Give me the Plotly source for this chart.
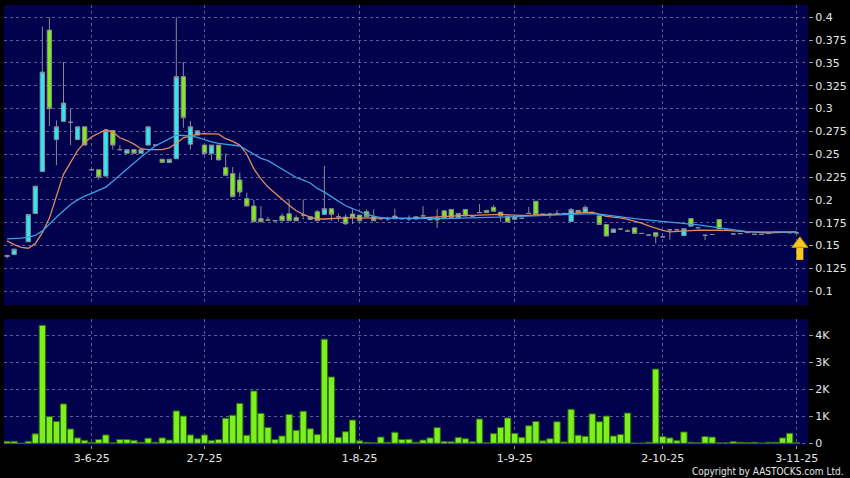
import plotly.graph_objects as go

# ---------------- data ----------------
N_BARS = 113
bar_index = list(range(N_BARS))

opens = [0.138, 0.140, None, 0.154, 0.185, 0.231, 0.386, 0.266, 0.286, 0.285,
         0.266, 0.280, 0.233, 0.233, 0.226, 0.276, 0.255, 0.251, 0.255, 0.251,
         0.260, 0.260, 0.2445, 0.241, 0.245, 0.335, 0.261, 0.271, 0.260, 0.2507,
         0.260, 0.2353, 0.2287, 0.2218, 0.2013, 0.1932, 0.1793, 0.1778, 0.1771, 0.1822,
         0.1848, 0.1804, 0.1830, 0.1786, 0.1870, 0.1841, 0.1903, 0.1815, 0.1811, 0.1844,
         0.1833, 0.1870, 0.1815, 0.1793, 0.1793, 0.1793, 0.1793, 0.1792, 0.1814, 0.1825,
         0.1780, 0.1780, 0.1880, 0.1895, 0.1803, 0.1895, 0.1821, 0.1860, 0.1885, 0.1918,
         0.1865, 0.1820, 0.1787, 0.1798, 0.1851, 0.1985, 0.1843, 0.1843, 0.1851, 0.1851,
         0.1762, 0.1885, 0.1862, 0.1857, 0.1825, 0.1730, 0.1643, 0.1680, 0.1658, 0.1693,
         0.1632, 0.1615, 0.1640, 0.1595, 0.1672, 0.1672, 0.1608, 0.1796, 0.1695, 0.1612,
         0.1620, 0.1785, 0.1668, 0.1626, 0.1630, 0.1640, 0.1622, 0.1622, 0.1632, 0.1645,
         0.1645, 0.1640, 0.1638]
highs = [0.140, 0.146, None, 0.184, 0.215, 0.390, 0.400, 0.287, 0.351, 0.300,
         0.280, 0.280, 0.233, 0.233, 0.276, 0.276, 0.260, 0.255, 0.255, 0.255,
         0.280, 0.260, 0.2445, 0.2445, 0.400, 0.351, 0.2865, 0.2756, 0.260, 0.260,
         0.260, 0.2507, 0.236, 0.2298, 0.2078, 0.1998, 0.1932, 0.1815, 0.1771, 0.1852,
         0.2005, 0.1830, 0.2005, 0.1815, 0.1890, 0.2371, 0.1903, 0.1850, 0.1840, 0.1895,
         0.1833, 0.1895, 0.1895, 0.1793, 0.1815, 0.1903, 0.1793, 0.1830, 0.1814, 0.1931,
         0.1803, 0.1898, 0.1880, 0.1895, 0.1851, 0.1895, 0.1821, 0.1953, 0.1885, 0.1942,
         0.1865, 0.1820, 0.1814, 0.1798, 0.1923, 0.1985, 0.1843, 0.1858, 0.1890, 0.1851,
         0.1912, 0.1885, 0.1940, 0.1857, 0.1825, 0.1730, 0.1680, 0.1680, 0.1678, 0.1693,
         0.1632, 0.1615, 0.1640, 0.1595, 0.1672, 0.1672, 0.1684, 0.1796, 0.1695, 0.1612,
         0.1620, 0.1785, 0.1668, 0.1626, 0.1630, 0.1650, 0.1622, 0.1622, 0.1632, 0.1645,
         0.1645, 0.1640, 0.1638]
lows = [0.136, 0.140, None, 0.154, 0.185, 0.231, 0.281, 0.238, 0.286, 0.260,
        0.266, 0.260, 0.233, 0.222, 0.226, 0.255, 0.255, 0.251, 0.251, 0.251,
        0.260, 0.260, 0.241, 0.241, 0.245, 0.279, 0.255, 0.271, 0.2507, 0.2437,
        0.2437, 0.2269, 0.2035, 0.2035, 0.1932, 0.1760, 0.1760, 0.1778, 0.1771, 0.1771,
        0.1771, 0.1771, 0.1786, 0.1786, 0.1771, 0.1841, 0.1767, 0.1760, 0.1725, 0.1735,
        0.1771, 0.1815, 0.1771, 0.1793, 0.1770, 0.1793, 0.1793, 0.1770, 0.1789, 0.1822,
        0.1780, 0.1693, 0.1800, 0.1807, 0.1803, 0.1823, 0.1821, 0.1860, 0.1860, 0.1875,
        0.1759, 0.1756, 0.1787, 0.1798, 0.1851, 0.1835, 0.1843, 0.1800, 0.1851, 0.1851,
        0.1762, 0.1860, 0.1862, 0.1857, 0.1730, 0.1603, 0.1643, 0.1680, 0.1648, 0.1632,
        0.1632, 0.1615, 0.1522, 0.1595, 0.1563, 0.1672, 0.1608, 0.1712, 0.1695, 0.1558,
        0.1620, 0.1680, 0.1668, 0.1626, 0.1630, 0.1640, 0.1622, 0.1622, 0.1632, 0.1645,
        0.1645, 0.1640, 0.1638]
closes = [0.139, 0.146, None, 0.184, 0.215, 0.340, 0.300, 0.280, 0.306, 0.285,
          0.280, 0.260, 0.233, 0.225, 0.276, 0.260, 0.255, 0.255, 0.251, 0.255,
          0.280, 0.260, 0.241, 0.2445, 0.335, 0.290, 0.280, 0.2756, 0.2507, 0.260,
          0.2437, 0.2269, 0.2035, 0.2086, 0.1932, 0.1760, 0.1760, 0.1778, 0.1771, 0.1771,
          0.1771, 0.1771, 0.1830, 0.1815, 0.1771, 0.1903, 0.1841, 0.1815, 0.1738, 0.1804,
          0.1771, 0.1815, 0.1771, 0.1793, 0.1793, 0.1822, 0.1793, 0.1792, 0.1789, 0.1825,
          0.1803, 0.1803, 0.1800, 0.1807, 0.1851, 0.1823, 0.1821, 0.1860, 0.1860, 0.1875,
          0.1828, 0.1756, 0.1814, 0.1798, 0.1851, 0.1836, 0.1843, 0.1843, 0.1851, 0.1851,
          0.1895, 0.1860, 0.1917, 0.1857, 0.1730, 0.1603, 0.1680, 0.1680, 0.1658, 0.1632,
          0.1632, 0.1615, 0.1602, 0.1595, 0.1672, 0.1672, 0.1684, 0.1712, 0.1695, 0.1612,
          0.1620, 0.1680, 0.1668, 0.1626, 0.1630, 0.1650, 0.1622, 0.1622, 0.1632, 0.1645,
          0.1645, 0.1640, 0.1638]

# volume in shares (axis shows K)
volumes = [74, 74, 0, 74, 350, 4370, 990, 810, 1460, 530,
           200, 110, 40, 140, 310, 20, 140, 140, 110, 40,
           190, 40, 200, 120, 1200, 1010, 310, 170, 310, 100,
           140, 930, 1040, 1480, 300, 1940, 1110, 590, 140, 270,
           1070, 480, 1190, 540, 330, 3860, 2460, 220, 430, 860,
           90, 40, 20, 230, 40, 410, 140, 150, 40, 120,
           200, 580, 70, 60, 220, 170, 60, 900, 20, 360,
           590, 940, 370, 220, 650, 810, 90, 170, 800, 50,
           1260, 300, 260, 1090, 800, 1010, 270, 330, 1120, 10,
           10, 40, 2750, 250, 200, 100, 420, 40, 20, 250,
           230, 20, 20, 70, 40, 30, 40, 10, 40, 40,
           200, 370, 20]

ma_short = [0.155, 0.151, 0.148, 0.147, 0.152, 0.164, 0.180, 0.205, 0.228, 0.241,
            0.254, 0.263, 0.269, 0.273, 0.277, 0.274, 0.268, 0.265, 0.261, 0.256,
            0.255, 0.255, 0.255, 0.257, 0.262, 0.268, 0.270, 0.272, 0.2725, 0.2726,
            0.272, 0.267, 0.264, 0.260, 0.250, 0.234, 0.223, 0.214, 0.207, 0.201,
            0.194, 0.188, 0.184, 0.181, 0.179, 0.179, 0.1797, 0.180, 0.1803, 0.1802,
            0.180, 0.1797, 0.1798, 0.180, 0.180, 0.1798, 0.1797, 0.180, 0.180, 0.1805,
            0.181, 0.181, 0.1815, 0.182, 0.1825, 0.183, 0.183, 0.1832, 0.1835, 0.184,
            0.184, 0.1835, 0.183, 0.183, 0.183, 0.1835, 0.184, 0.184, 0.184, 0.1845,
            0.185, 0.186, 0.1865, 0.1865, 0.1840, 0.182, 0.181, 0.1803, 0.1787, 0.177,
            0.1745, 0.1715, 0.169, 0.1665, 0.165, 0.1652, 0.1657, 0.1662, 0.1667, 0.1668,
            0.1668, 0.1668, 0.1665, 0.166, 0.1655, 0.1648, 0.1643, 0.164, 0.1638, 0.1642,
            0.1646, 0.1648, 0.165]
ma_long = [0.1573, 0.1573, 0.158, 0.1592, 0.161, 0.166, 0.174, 0.181, 0.188, 0.195,
           0.200, 0.204, 0.207, 0.2105, 0.214, 0.2205, 0.2275, 0.234, 0.2405, 0.247,
           0.2535, 0.259, 0.263, 0.267, 0.271, 0.2705, 0.270, 0.2685, 0.266, 0.2635,
           0.262, 0.261, 0.2598, 0.259, 0.2545, 0.250, 0.2455, 0.243, 0.2385, 0.234,
           0.229, 0.2245, 0.2215, 0.2185, 0.2125, 0.2085, 0.2035, 0.198, 0.1935, 0.1905,
           0.187, 0.184, 0.1822, 0.1805, 0.1798, 0.1797, 0.1795, 0.1793, 0.1792, 0.1792,
           0.1792, 0.1793, 0.1795, 0.1797, 0.1798, 0.180, 0.180, 0.1802, 0.1805, 0.1808,
           0.181, 0.1813, 0.1816, 0.182, 0.1822, 0.1825, 0.1828, 0.183, 0.1833, 0.1836,
           0.184, 0.1843, 0.1846, 0.1848, 0.1843, 0.1832, 0.1822, 0.1814, 0.1805, 0.1795,
           0.1786, 0.1779, 0.1773, 0.1766, 0.1758, 0.175, 0.1742, 0.1733, 0.1725, 0.1714,
           0.1703, 0.1692, 0.1678, 0.1668, 0.166, 0.1652, 0.165, 0.165, 0.165, 0.1649,
           0.1648, 0.1647, 0.1648]

date_tick_index = [12, 28, 50, 72, 93, 112]
date_tick_labels = ["3-6-25", "2-7-25", "1-8-25", "1-9-25", "2-10-25", "3-11-25"]

price_ticks = [0.1, 0.125, 0.15, 0.175, 0.2, 0.225, 0.25, 0.275, 0.3, 0.325, 0.35, 0.375, 0.4]
price_tick_labels = ["0.1", "0.125", "0.15", "0.175", "0.2", "0.225", "0.25", "0.275",
                     "0.3", "0.325", "0.35", "0.375", "0.4"]
vol_ticks = [0, 1000, 2000, 3000, 4000]
vol_tick_labels = ["0", "1K", "2K", "3K", "4K"]

# ---------------- styling ----------------
BG = "#000000"
PLOT_BG = "#01014e"
GRID = "rgba(140,140,190,0.65)"
UP = "#2ce6f5"
DOWN = "#7ceb1e"
WICK = "#8c8c8c"
TXT = "#e6e6e6"
FONT = "DejaVu Sans"
GOLD = "#f7c81e"

PRICE_RANGE = [0.0847, 0.4135]
PRICE_PANEL_PX = 300.0
PX = (PRICE_RANGE[1] - PRICE_RANGE[0]) / PRICE_PANEL_PX  # price units per pixel

fig = go.Figure()

fig.add_trace(go.Candlestick(
    x=bar_index, open=opens, high=highs, low=lows, close=closes,
    increasing=dict(fillcolor=UP, line=dict(color=WICK, width=1)),
    decreasing=dict(fillcolor=DOWN, line=dict(color=WICK, width=1)),
    whiskerwidth=0, showlegend=False, xaxis="x", yaxis="y", hoverinfo="skip",
))
fig.add_trace(go.Scatter(x=bar_index, y=ma_short, mode="lines",
                         line=dict(color="#e38a5c", width=1.3), showlegend=False,
                         xaxis="x", yaxis="y", hoverinfo="skip"))
fig.add_trace(go.Scatter(x=bar_index, y=ma_long, mode="lines",
                         line=dict(color="#3d9fe0", width=1.3), showlegend=False,
                         xaxis="x", yaxis="y", hoverinfo="skip"))
fig.add_trace(go.Bar(x=bar_index, y=volumes, marker=dict(color="#7cf01e",
                     line=dict(color="#2f6a08", width=1)),
                     showlegend=False, xaxis="x2", yaxis="y2", hoverinfo="skip"))

# last-price arrow marker (below the last close)
last_x = bar_index[-1] + 0.45
last_c = closes[-1]
fig.add_trace(go.Scatter(x=[last_x, last_x], y=[last_c - 13 * PX, last_c - 27 * PX],
                         mode="lines", line=dict(color=GOLD, width=7),
                         showlegend=False, hoverinfo="skip", xaxis="x", yaxis="y"))
fig.add_trace(go.Scatter(x=[last_x], y=[last_c - 11 * PX], mode="markers",
                         marker=dict(symbol="triangle-up", size=14, color=GOLD,
                                     line=dict(color="#c08a00", width=1)),
                         showlegend=False, hoverinfo="skip", xaxis="x", yaxis="y"))

x_range = [-0.44, 113.6]
common_x = dict(range=x_range, tickmode="array", tickvals=date_tick_index,
                showgrid=True, gridcolor=GRID, griddash="3px,3px", gridwidth=1,
                zeroline=False, showline=False, rangeslider=dict(visible=False))

fig.update_layout(
    width=850, height=478,
    paper_bgcolor=BG, plot_bgcolor=PLOT_BG,
    margin=dict(l=4, r=42, t=5, b=33),
    font=dict(family=FONT, size=11, color=TXT),
    bargap=0.1, boxgap=0.12,
    xaxis=dict(domain=[0, 1], anchor="y", showticklabels=False, ticks="", **common_x),
    xaxis2=dict(domain=[0, 1], anchor="y2", matches="x", ticktext=date_tick_labels,
                showticklabels=True, ticks="outside", ticklen=3, tickcolor="#9a9a9a",
                tickfont=dict(family=FONT, size=11, color=TXT), **common_x),
    yaxis=dict(domain=[0.318, 1.0], anchor="x", side="right", range=PRICE_RANGE,
               tickmode="array", tickvals=price_ticks, ticktext=price_tick_labels,
               ticks="outside", ticklen=4, tickcolor="#9a9a9a",
               showgrid=True, gridcolor=GRID, griddash="3px,3px", zeroline=False,
               showline=False, tickfont=dict(family=FONT, size=11, color=TXT)),
    yaxis2=dict(domain=[0.0, 0.286], anchor="x2", side="right", range=[-63, 4600],
                tickmode="array", tickvals=vol_ticks, ticktext=vol_tick_labels,
                ticks="outside", ticklen=4, tickcolor="#9a9a9a",
                showgrid=True, gridcolor=GRID, griddash="3px,3px", zeroline=False,
                showline=False, tickfont=dict(family=FONT, size=11, color=TXT)),
)

fig.add_annotation(text="Copyright by AASTOCKS.com Ltd.", xref="paper", yref="paper",
                   x=1.0, y=0, xanchor="right", yanchor="top", yshift=-19, xshift=38,
                   showarrow=False,
                   font=dict(family="DejaVu Sans Condensed, DejaVu Sans", size=10,
                             color=TXT))

fig.write_html("out.html", config={"displayModeBar": False},
               post_script="document.body.style.margin='0';")
